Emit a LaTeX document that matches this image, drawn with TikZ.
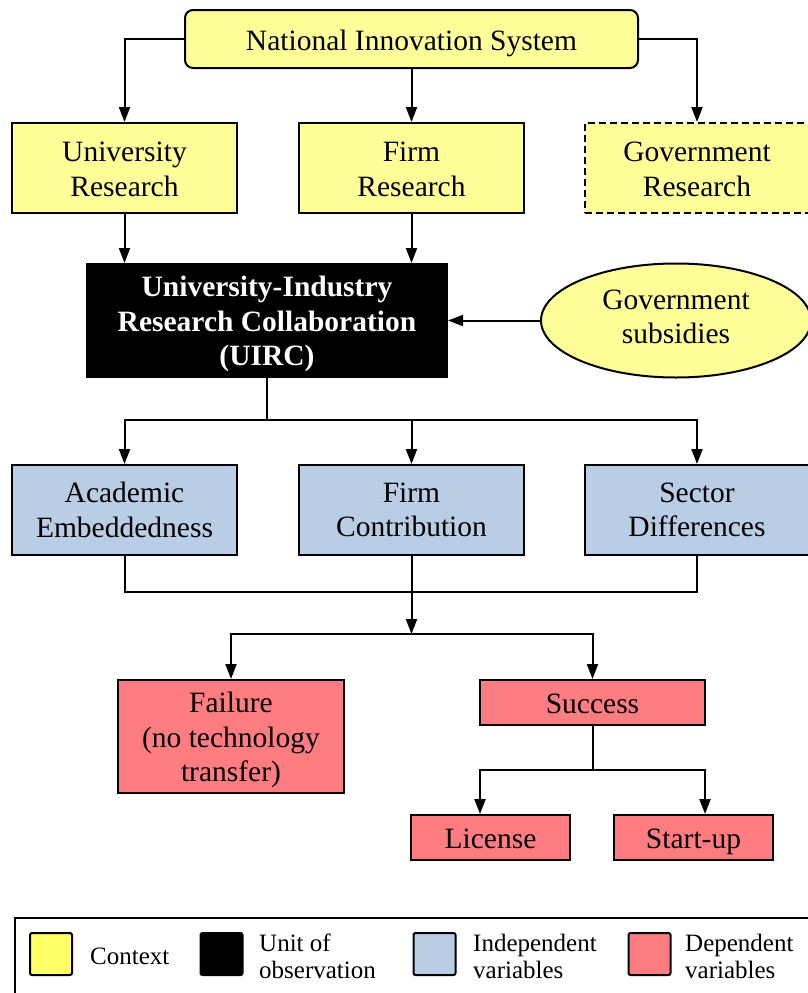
\documentclass[tikz,border=0pt]{standalone}
\usepackage{fontspec}
\setmainfont{Liberation Serif}
\usetikzlibrary{arrows.meta,shapes.geometric}
\definecolor{ctxY}{HTML}{FFFF99}
\definecolor{legY}{HTML}{FFFF66}
\definecolor{indB}{HTML}{B9CDE5}
\definecolor{depR}{HTML}{FF7C80}
\begin{document}
\begin{tikzpicture}[x=1pt,y=-1pt,
  box/.style={draw, line width=2pt, align=center, font=\fontsize{29.5}{34.5}\selectfont, inner sep=0pt},
  oneline/.style={text height=24pt, text depth=2pt},
  arr/.style={line width=2pt, -{Triangle[length=15pt,width=11pt]}},
  ln/.style={line width=2pt},
  sw/.style={draw, line width=2pt, minimum width=42, minimum height=42, inner sep=0pt, rounded corners=2pt},
  legtxt/.style={anchor=west, align=left, font=\fontsize{25}{27}\selectfont, inner sep=0pt}]
\useasboundingbox (0,0) rectangle (807,993);
% top
\node[box, oneline, fill=ctxY, rounded corners=8pt, minimum width=453, minimum height=58] (nis) at (411.5,39) {National Innovation System};
\node[box, fill=ctxY, minimum width=225, minimum height=90] (ur) at (124.5,168) {\rule{0pt}{22pt}University\\Research};
\node[box, fill=ctxY, minimum width=225, minimum height=90] (fr) at (411.5,168) {\rule{0pt}{22pt}Firm\\Research};
\node[box, fill=ctxY, dash pattern=on 7pt off 4pt, minimum width=224, minimum height=90] (gr) at (697,168) {\rule{0pt}{22pt}Government\\Research};
% UIRC
\node[box, fill=black, text=white, font=\fontsize{29.5}{34.5}\selectfont\bfseries, minimum width=360, minimum height=113] (uirc) at (267,320.5) {\rule{0pt}{28pt}University-Industry\\Research Collaboration\\(UIRC)};
\node[box, fill=ctxY, ellipse, minimum width=270, minimum height=114] (gs) at (676,320.5) {Government\\subsidies\rule[-8pt]{0pt}{0pt}};
% independent
\node[box, fill=indB, minimum width=225, minimum height=90] (ae) at (124.5,510) {Academic\\Embeddedness};
\node[box, fill=indB, minimum width=225, minimum height=90] (fc) at (411.5,510) {Firm\\Contribution};
\node[box, fill=indB, minimum width=224, minimum height=90] (sd) at (697,510) {Sector\\Differences};
% dependent
\node[box, fill=depR, minimum width=226, minimum height=113] (fail) at (231,736.5) {\rule{0pt}{28pt}Failure\\(no technology\\transfer)};
\node[box, oneline, fill=depR, minimum width=225, minimum height=45] (succ) at (592.5,702.5) {Success};
\node[box, oneline, fill=depR, minimum width=159, minimum height=45] (lic) at (490.5,837.5) {License};
\node[box, oneline, fill=depR, minimum width=159, minimum height=45] (su) at (693.5,837.5) {Start-up};
% connectors
\draw[arr] (nis.west) -| (ur.north);
\draw[arr] (nis.south) -- (fr.north);
\draw[arr] (nis.east) -| (gr.north);
\draw[arr] (ur.south) -- (ur.south |- uirc.north);
\draw[arr] (fr.south) -- (fr.south |- uirc.north);
\draw[arr] (gs.west) -- (uirc.east);
\coordinate (j1) at (267,420);
\draw[ln] (uirc.south) -- (j1);
\draw[arr] (j1) -| (ae.north);
\draw[arr] (j1) -| (fc.north);
\draw[arr] (j1) -| (sd.north);
\coordinate (j2) at (411.5,592);
\coordinate (j3) at (411.5,634);
\draw[ln] (ae.south) |- (j2) -| (sd.south);
\draw[ln] (fc.south) -- (j2);
\draw[arr] (j2) -- (j3);
\draw[arr] (j3) -| (fail.north);
\draw[arr] (j3) -| (succ.north);
\coordinate (j4) at (592.5,770);
\draw[ln] (succ.south) -- (j4);
\draw[arr] (j4) -| ([xshift=-10.5pt]lic.north);
\draw[arr] (j4) -| ([xshift=11.5pt]su.north);
% legend
\node[draw, line width=2pt, minimum width=810, minimum height=95, inner sep=0pt] (leg) at (420,965.5) {};
\node[sw, fill=legY] (s1) at (51,954) {};
\node[legtxt] (t1) at (90,956) {Context};
\node[sw, fill=black] (s2) at (221.5,954) {};
\node[legtxt] (t2) at (259,956) {Unit of\\observation};
\node[sw, fill=indB] (s3) at (434.5,954) {};
\node[legtxt] (t3) at (473,956) {Independent\\variables};
\node[sw, fill=depR] (s4) at (649.5,954) {};
\node[legtxt] (t4) at (685,956) {Dependent\\variables};
\end{tikzpicture}
\end{document}
